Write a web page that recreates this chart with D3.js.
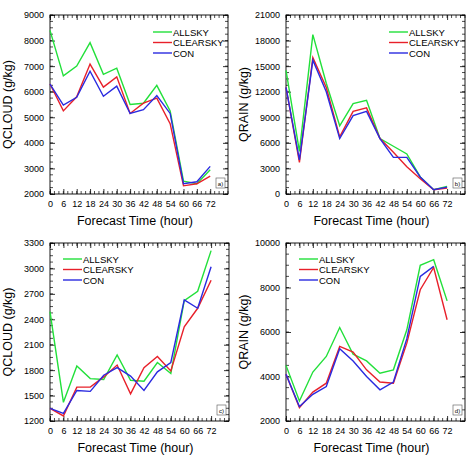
<!DOCTYPE html>
<html><head><meta charset="utf-8">
<script src="https://cdn.jsdelivr.net/npm/d3@7"></script>
<style>body{margin:0;background:#fff}svg{font-family:"Liberation Sans",Arial,sans-serif}</style>
</head><body><svg id="chart" width="474" height="455"></svg>
<script>
const hours = [0,6,12,18,24,30,36,42,48,54,60,66,72];
const seriesNames = ["ALLSKY","CLEARSKY","CON"];
const colors = ["#22e03a","#e8202a","#2a2ae0"];

// a) QCLOUD
const aAllsky = [8400,6620,7000,7920,6680,6920,5500,5550,6250,5250,2500,2400,2950];
const aClearsky = [6300,5250,5800,7080,6180,6580,5150,5550,5750,4750,2320,2400,2700];
const aCon = [6300,5480,5780,6800,5820,6220,5150,5300,5850,5150,2400,2480,3080];
// b) QRAIN
const bAllsky = [14500,5000,18700,13000,8000,10600,11000,6500,5600,4700,2000,500,900];
const bClearsky = [12500,3700,16000,12500,6700,9700,10100,6500,4900,3200,1800,500,700];
const bCon = [12500,4000,15700,12000,6500,9200,9700,6500,4300,4300,2000,500,800];
// c) QCLOUD
const cAllsky = [2490,1420,1850,1700,1690,1980,1680,1670,1890,1760,2620,2730,3210];
const cClearsky = [1350,1260,1600,1600,1720,1860,1520,1830,1960,1790,2310,2530,2860];
const cCon = [1350,1290,1560,1550,1740,1830,1730,1560,1780,1890,2630,2530,3020];
// d) QRAIN
const dAllsky = [4500,2900,4200,4900,6200,5000,4700,4150,4300,6100,9000,9250,7400];
const dClearsky = [4100,2600,3300,3700,5350,5100,4300,3750,3700,5500,7900,8900,6550];
const dCon = [4100,2650,3200,3550,5250,4700,4000,3400,3750,5700,8500,8950];

const svg = d3.select("#chart");

function drawPanel(p) {
  const g = svg.append("g");
  const x = d3.scaleLinear().domain([0, 80]).range([p.x0, p.x1]);
  const y = d3.scaleLinear().domain(p.yDomain).range([p.y1, p.y0]);

  // inward ticks on all four sides
  const minorY = d3.range(p.yDomain[0], p.yDomain[1] + 1e-6, p.yStep / 4);
  const minorX = d3.range(0, 80.01, 2);
  g.append("g").attr("transform", `translate(0,${p.y1})`)
    .call(d3.axisBottom(x).tickValues(hours).tickSizeInner(-5).tickSizeOuter(0).tickPadding(7));
  g.append("g").attr("transform", `translate(0,${p.y0})`)
    .call(d3.axisTop(x).tickValues(hours).tickSizeInner(-5).tickSizeOuter(0).tickFormat(""));
  g.append("g").attr("transform", `translate(${p.x0},0)`)
    .call(d3.axisLeft(y).tickValues(p.yTicks).tickSizeInner(-5).tickSizeOuter(0).tickPadding(6).tickFormat(d3.format("d")));
  g.append("g").attr("transform", `translate(${p.x1},0)`)
    .call(d3.axisRight(y).tickValues(p.yTicks).tickSizeInner(-5).tickSizeOuter(0).tickFormat(""));
  [[p.y1, -3], [p.y0, 3]].forEach(([yy, d]) => {
    g.selectAll(null).data(minorX).join("line")
      .attr("x1", v => x(v)).attr("x2", v => x(v)).attr("y1", yy).attr("y2", yy + d)
      .attr("stroke", "#000").attr("stroke-width", 0.7);
  });
  [[p.x0, 3], [p.x1, -3]].forEach(([xx, d]) => {
    g.selectAll(null).data(minorY).join("line")
      .attr("y1", v => y(v)).attr("y2", v => y(v)).attr("x1", xx).attr("x2", xx + d)
      .attr("stroke", "#000").attr("stroke-width", 0.7);
  });
  g.selectAll(".domain").remove();
  g.selectAll(".tick line").attr("stroke-width", 0.8);
  g.selectAll(".tick text").attr("font-size", 9).attr("fill", "#000");
  g.append("rect").attr("x", p.x0).attr("y", p.y0).attr("width", p.x1 - p.x0).attr("height", p.y1 - p.y0)
    .attr("fill", "none").attr("stroke", "#000").attr("stroke-width", 0.9);

  const line = d3.line().x((d, i) => x(hours[i])).y(d => y(d));
  p.series.forEach((s, k) => {
    g.append("path").attr("d", line(s)).attr("fill", "none")
      .attr("stroke", colors[k]).attr("stroke-width", 1.4);
  });

  // legend
  seriesNames.forEach((n, k) => {
    const ly = p.legY + k * 10.5;
    g.append("line").attr("x1", p.legX).attr("x2", p.legX + p.legW).attr("y1", ly).attr("y2", ly)
      .attr("stroke", colors[k]).attr("stroke-width", 1.4);
    g.append("text").attr("x", p.legX + p.legW + 1).attr("y", ly + 3.5).attr("font-size", 9.5).text(n);
  });

  // panel tag
  g.append("rect").attr("x", p.x1 - 12).attr("y", p.y1 - 16).attr("width", 9).attr("height", 10)
    .attr("fill", "#fff").attr("stroke", "#555").attr("stroke-width", 0.6);
  g.append("text").attr("x", p.x1 - 7.5).attr("y", p.y1 - 8.5).attr("text-anchor", "middle")
    .attr("font-size", 6).text(p.tag);

  g.append("text").attr("x", (p.x0 + p.x1) / 2 - 4).attr("y", p.y1 + 31).attr("text-anchor", "middle")
    .attr("font-size", 12.5).text("Forecast Time (hour)");
  g.append("text").attr("transform", `translate(${p.x0 - 38},${(p.y0 + p.y1) / 2}) rotate(-90)`)
    .attr("text-anchor", "middle").attr("font-size", 12.5).text(p.yLabel);
}

drawPanel({x0: 50, x1: 228, y0: 15, y1: 194, yDomain: [2000, 9000], yStep: 1000,
  yTicks: d3.range(2000, 9001, 1000), yLabel: "QCLOUD (g/kg)", tag: "a)",
  series: [aAllsky, aClearsky, aCon], legX: 153, legW: 19, legY: 32});
drawPanel({x0: 286, x1: 465, y0: 15, y1: 194, yDomain: [0, 21000], yStep: 3000,
  yTicks: d3.range(0, 21001, 3000), yLabel: "QRAIN (g/kg)", tag: "b)",
  series: [bAllsky, bClearsky, bCon], legX: 389, legW: 19, legY: 32});
drawPanel({x0: 50, x1: 229, y0: 243, y1: 421, yDomain: [1200, 3300], yStep: 300,
  yTicks: d3.range(1200, 3301, 300), yLabel: "QCLOUD (g/kg)", tag: "c)",
  series: [cAllsky, cClearsky, cCon], legX: 63, legW: 19, legY: 259});
drawPanel({x0: 286, x1: 465, y0: 243, y1: 421, yDomain: [2000, 10000], yStep: 2000,
  yTicks: d3.range(2000, 10001, 2000), yLabel: "QRAIN (g/kg)", tag: "d)",
  series: [dAllsky, dClearsky, dCon], legX: 299, legW: 19, legY: 259});
</script></body></html>
